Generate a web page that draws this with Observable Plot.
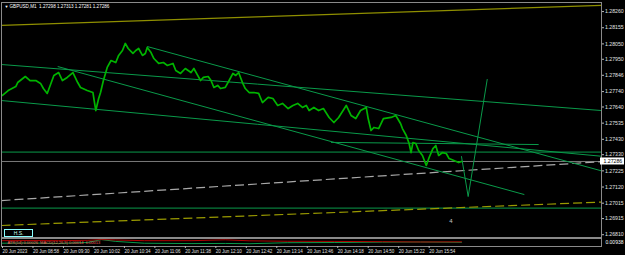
<!DOCTYPE html>
<html><head><meta charset="utf-8">
<script src="https://cdn.jsdelivr.net/npm/d3@7"></script>
<script src="https://cdn.jsdelivr.net/npm/@observablehq/plot@0.6"></script>
<style>
html,body{margin:0;padding:0;background:#000;}
#chart{position:relative;width:625px;height:255px;background:#000;overflow:hidden;font-family:"Liberation Sans",Arial,sans-serif;}
#chart svg{display:block;}
</style></head><body><div id="chart"></div>
<script>
// ---- data (minutes after 08:26, price) ----
const closeMinutes = [1,7,15,17,25,30,36,41,44,48,55,60,64,69,75,80,83,90,96,99,102,104,107,111,115,120,123,127,130,133,138,141,144,148,151,153,157,160,165,170,174,180,183,188,193,199,202,206,209,212,217,220,223,227,230,235,239,243,246,249,253,256,260,265,270,274,280,285,290,295,301,306,311,316,320,323,328,333,338,344,349,354,362,367,372,377,383,385,388,391,396,401,409,414,419,421,425,428,430,432,435,438,442,446,449,453,456,459,463,467,470,475,480,483];
const closePrices = [1.27715,1.27747,1.27773,1.27799,1.27838,1.27812,1.27812,1.27793,1.27760,1.27728,1.27845,1.27864,1.27812,1.27832,1.27864,1.27799,1.27767,1.27747,1.27734,1.27617,1.27695,1.27734,1.27812,1.27897,1.27942,1.27929,1.27975,1.28007,1.28053,1.28020,1.27988,1.28007,1.28020,1.27975,1.27988,1.28027,1.27994,1.27955,1.27923,1.27929,1.27910,1.27923,1.27877,1.27858,1.27890,1.27864,1.27890,1.27845,1.27812,1.27832,1.27838,1.27812,1.27767,1.27780,1.27760,1.27767,1.27812,1.27858,1.27845,1.27864,1.27799,1.27760,1.27734,1.27734,1.27728,1.27669,1.27702,1.27695,1.27650,1.27663,1.27630,1.27650,1.27663,1.27637,1.27650,1.27617,1.27637,1.27617,1.27630,1.27572,1.27539,1.27572,1.27650,1.27585,1.27565,1.27617,1.27637,1.27565,1.27487,1.27507,1.27500,1.27565,1.27572,1.27585,1.27533,1.27500,1.27455,1.27403,1.27344,1.27409,1.27403,1.27357,1.27325,1.27260,1.27312,1.27370,1.27390,1.27325,1.27344,1.27338,1.27305,1.27292,1.27279,1.27286];

const priceTicks = [1.28260,1.28155,1.28050,1.27950,1.27846,1.27740,1.27640,1.27535,1.27430,1.27330,1.27225,1.27120,1.27015,1.26915,1.26810];
const timeTickMinutes = [0,32,64,96,128,160,192,224,256,288,320,352,384,416,448];
const timeTickLabels = ["20 Jun 2023","20 Jun 08:58","20 Jun 09:30","20 Jun 10:02","20 Jun 10:34","20 Jun 11:06","20 Jun 11:38","20 Jun 12:10","20 Jun 12:42","20 Jun 13:14","20 Jun 13:46","20 Jun 14:18","20 Jun 14:50","20 Jun 15:22","20 Jun 15:54"];

const titleText = "GBPUSD,M1  1.27298 1.27313 1.27281 1.27286";
const bidPrice = 1.27286;
const greenLevels = [1.27347, 1.26983];

// trend lines: [minute1, price1, minute2, price2]
const greenTrendLines = [
  [0, 1.27916, 630, 1.27617],
  [0, 1.27682, 630, 1.27320],
  [153, 1.28033, 630, 1.27225],
  [59, 1.27903, 549, 1.27071],
  [346, 1.27410, 564, 1.27396]
];
const vLineMinutes = [483, 490, 510];
const vLinePrices = [1.27318, 1.27058, 1.27819];
const yellowSolid = [0, 1.28170, 630, 1.28300];
const yellowDashed = [0, 1.26870, 630, 1.27022];
const greyDashed = [0, 1.27032, 630, 1.27285];

// indicator sub-window (relative units)
const indMinutes = [0,30,60,90,105,120,150,200,235,260,300,350,400,440,483];
const atrValues = [0.80,0.82,0.80,0.85,0.95,0.90,0.80,0.80,0.92,0.78,0.72,0.70,0.66,0.62,0.64];
const macdValues = [0.45,0.48,0.42,0.55,0.95,0.70,0.45,0.40,0.42,0.38,0.52,0.55,0.60,0.62,0.58];

// ---- build ----
const seg = (a) => ({x1: a[0], y1: a[1], x2: a[2], y2: a[3]});
const closeData = closeMinutes.map((m, i) => ({m, p: closePrices[i]}));
const vData = vLineMinutes.map((m, i) => ({m, p: vLinePrices[i]}));
const fontFam = "Liberation Sans, Arial, sans-serif";

const main = Plot.plot({
  width: 625, height: 238,
  marginLeft: 1, marginRight: 24, marginTop: 2, marginBottom: 1,
  style: {background: "#000", color: "#ddd", fontFamily: fontFam},
  x: {domain: [0, 630], axis: null, label: null},
  y: {domain: [1.26792, 1.28319], axis: null, label: null},
  marks: [
    Plot.ruleY([bidPrice], {stroke: "#7a7a7a", strokeWidth: 1}),
    Plot.ruleY(greenLevels, {stroke: "#0a9a4a", strokeWidth: 1}),
    Plot.link([seg(yellowSolid)], {x1: "x1", y1: "y1", x2: "x2", y2: "y2", stroke: "#8f8f00", strokeWidth: 1.2}),
    Plot.link([seg(yellowDashed)], {x1: "x1", y1: "y1", x2: "x2", y2: "y2", stroke: "#9a9a00", strokeWidth: 1.2, strokeDasharray: "9,4"}),
    Plot.link([seg(greyDashed)], {x1: "x1", y1: "y1", x2: "x2", y2: "y2", stroke: "#a8a8a8", strokeWidth: 1.2, strokeDasharray: "9,4"}),
    Plot.link(greenTrendLines.map(seg), {x1: "x1", y1: "y1", x2: "x2", y2: "y2", stroke: "#0a9a4a", strokeWidth: 1}),
    Plot.line(vData, {x: "m", y: "p", stroke: "#0a9a4a", strokeWidth: 1}),
    Plot.line(closeData, {x: "m", y: "p", stroke: "#00b400", strokeWidth: 1.7}),
    Plot.frame({stroke: "#8a8a8a", strokeWidth: 1}),
    Plot.axisY(priceTicks, {anchor: "right", label: null, tickSize: 2, tickPadding: 1.5, tickFormat: d => d.toFixed(5), fontSize: 5.2, fill: "#e0e0e0", stroke: "#bbb"}),
    Plot.rect([bidPrice], {x1: () => 630, x2: () => 630, y1: d => d, y2: d => d, insetLeft: -1, insetRight: -23, insetTop: -3.5, insetBottom: -3.5, fill: "#fff"}),
    Plot.text([bidPrice], {x: () => 630, y: d => d, text: d => d.toFixed(5), dx: 2, textAnchor: "start", fill: "#000", fontSize: 5.2}),
    Plot.text([titleText], {frameAnchor: "top-left", text: d => d, dx: 8, dy: 2.5, fill: "#fff", fontSize: 4.6, lineAnchor: "top"}),
    Plot.text(["\u25BC"], {frameAnchor: "top-left", text: d => d, dx: 3, dy: 3, fill: "#fff", fontSize: 4, lineAnchor: "top"}),
    Plot.text(["4"], {x: () => 472, y: () => 1.26897, text: d => d, fill: "#c8c8c8", fontSize: 6})
  ]
});

const sub = Plot.plot({
  width: 625, height: 17,
  marginLeft: 1, marginRight: 24, marginTop: 0, marginBottom: 9,
  style: {background: "#000", color: "#ddd", fontFamily: fontFam},
  x: {domain: [0, 630], axis: null, label: null},
  y: {domain: [0, 1.1], axis: null, label: null},
  marks: [
    Plot.line(indMinutes.map((m, i) => ({m, v: macdValues[i]})), {x: "m", y: "v", stroke: "#0a9a4a", strokeWidth: 1}),
    Plot.line(indMinutes.map((m, i) => ({m, v: atrValues[i]})), {x: "m", y: "v", stroke: "#b00000", strokeWidth: 1}),
    Plot.frame({stroke: "#8a8a8a", strokeWidth: 1}),
    Plot.text(["ATR(14) 0.00026  MACD(12,26,9) 0.00014  0.00013"], {frameAnchor: "left", text: d => d, dx: 6, fill: "#ff6060", fontSize: 4}),
    Plot.text(["0.00938"], {frameAnchor: "right", text: d => d, dx: 22, textAnchor: "end", fill: "#fff", fontSize: 5}),
    Plot.axisX(timeTickMinutes, {anchor: "bottom", label: null, tickSize: 2, tickPadding: 1, tickFormat: (d, i) => timeTickLabels[i], textAnchor: "start", dx: 1, fontSize: 4.5, fill: "#e0e0e0", stroke: "#bbb"})
  ]
});

const hs = document.createElement("div");
hs.textContent = "H.S.";
hs.style.cssText = "position:absolute;left:4px;top:229px;width:27px;height:6px;border:1px solid #8ff;background:#000;color:#cfe;font-size:5px;line-height:6px;text-align:center;";
const box = document.getElementById("chart");
box.appendChild(main);
box.appendChild(sub);
box.appendChild(hs);
</script>
</body></html>
